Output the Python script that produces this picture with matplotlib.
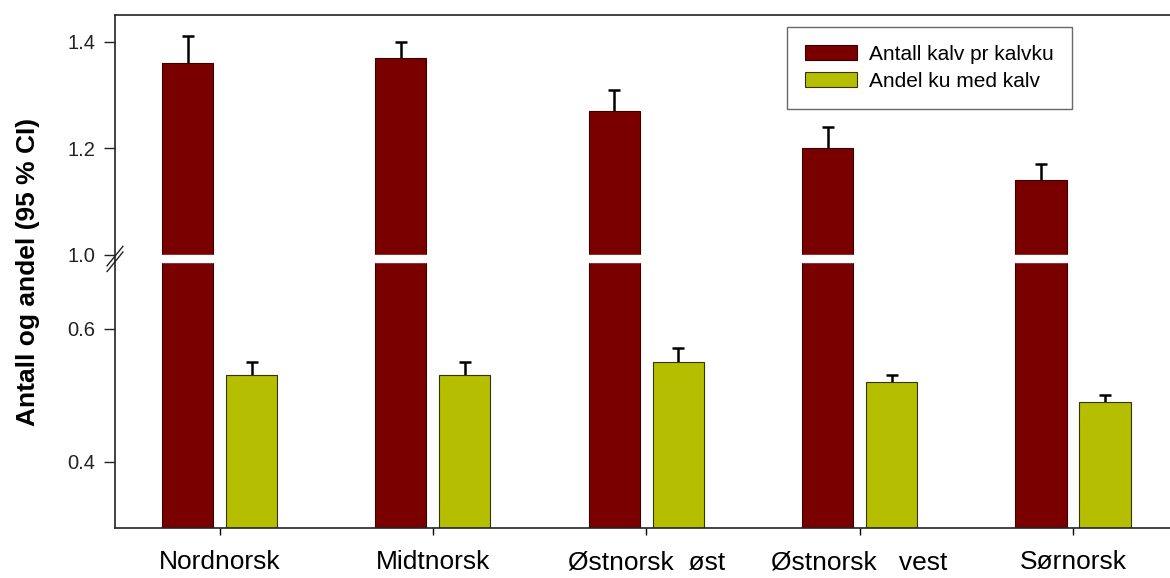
import numpy as np
import matplotlib
matplotlib.use('Agg')
import matplotlib.pyplot as plt
from matplotlib.scale import FuncScale

plt.rcParams['font.family'] = ['Liberation Sans', 'DejaVu Sans']

regions = ['Nordnorsk', 'Midtnorsk', 'Østnorsk  øst', 'Østnorsk   vest', 'Sørnorsk']
kalv_pr_ku = [1.36, 1.37, 1.27, 1.20, 1.14]
kalv_pr_ku_ci = [0.05, 0.03, 0.04, 0.04, 0.03]
andel_ku = [0.53, 0.53, 0.55, 0.52, 0.49]
andel_ku_ci = [0.02, 0.02, 0.02, 0.01, 0.01]

# broken y axis: 0.3-0.7 below, 1.0-1.45 above, short gap between
yk = np.array([-10.0, 0.3, 0.7, 1.0, 1.45, 10.0])
pk = np.array([-10.3 * 665.0, 0.0, 266.0, 273.0, 513.0, 513.0 + 8.55 * 533.3])

def fwd(y):
    return np.interp(y, yk, pk)

def inv(p):
    return np.interp(p, pk, yk)

fig = plt.figure(figsize=(11.7, 5.78), dpi=100)
ax = fig.add_axes([115 / 1170, 50 / 578, 1055 / 1170, 513 / 578])
ax.set_yscale(FuncScale(ax, (fwd, inv)))

x = np.arange(len(regions))
w = 0.24
red = '#7a0000'
green = '#b5bf00'

ax.bar(x - 0.15, kalv_pr_ku, width=w, color=red, edgecolor='#3a0000', linewidth=0.8,
       label='Antall kalv pr kalvku', zorder=1)
ax.bar(x + 0.15, andel_ku, width=w, color=green, edgecolor='#333300', linewidth=0.8,
       label='Andel ku med kalv', zorder=1)

# upper half of the CI only: stem from the bar top plus a cap
def upper_err(xs, vals, errs):
    xs = np.asarray(xs)
    tops = np.asarray(vals) + np.asarray(errs)
    ax.vlines(xs, vals, tops, color='black', linewidth=1.8, zorder=0.5)
    ax.hlines(tops, xs - 0.028, xs + 0.028, color='black', linewidth=1.8, zorder=0.5)

upper_err(x - 0.15, kalv_pr_ku, kalv_pr_ku_ci)
upper_err(x + 0.15, andel_ku, andel_ku_ci)

ax.axhspan(0.7, 1.0, color='white', zorder=2.2)

ax.set_ylim(0.3, 1.45)
ax.set_xlim(-0.49, 4.455)
ax.set_yticks([0.4, 0.6, 1.0, 1.2, 1.4])
ax.set_yticklabels(['0.4', '0.6', '1.0', '1.2', '1.4'])
ax.set_xticks(x)
ax.set_xticklabels(regions, fontsize=19)
ax.tick_params(axis='y', labelsize=14.5, length=8, width=1, direction='out', pad=6,
               colors='#222222')
ax.tick_params(axis='x', length=5, width=1, direction='out', pad=11)
ax.minorticks_off()

for s in ['left', 'bottom', 'top']:
    ax.spines[s].set_linewidth(1.2)
    ax.spines[s].set_color('#222222')
ax.spines['right'].set_visible(False)

# break marks on the y axis
for dy in (0.0, 0.011):
    ax.plot([-0.0075, 0.0075], [0.500 + dy, 0.538 + dy], transform=ax.transAxes,
            color='#222222', linewidth=1.0, clip_on=False, zorder=5)

ax.set_ylabel('Antall og andel (95 % CI)', fontsize=19, fontweight='bold', labelpad=20)

leg = ax.legend(loc='upper left', bbox_to_anchor=(787 / 1170, 1 - 27 / 578),
                bbox_transform=fig.transFigure, fontsize=15, frameon=True,
                fancybox=False, edgecolor='#444444', handlelength=2.5,
                handleheight=0.75, labelspacing=0.4, borderpad=0.85,
                handletextpad=0.6, borderaxespad=0)
leg.get_frame().set_linewidth(1.0)

fig.savefig('out.png', dpi=100)
